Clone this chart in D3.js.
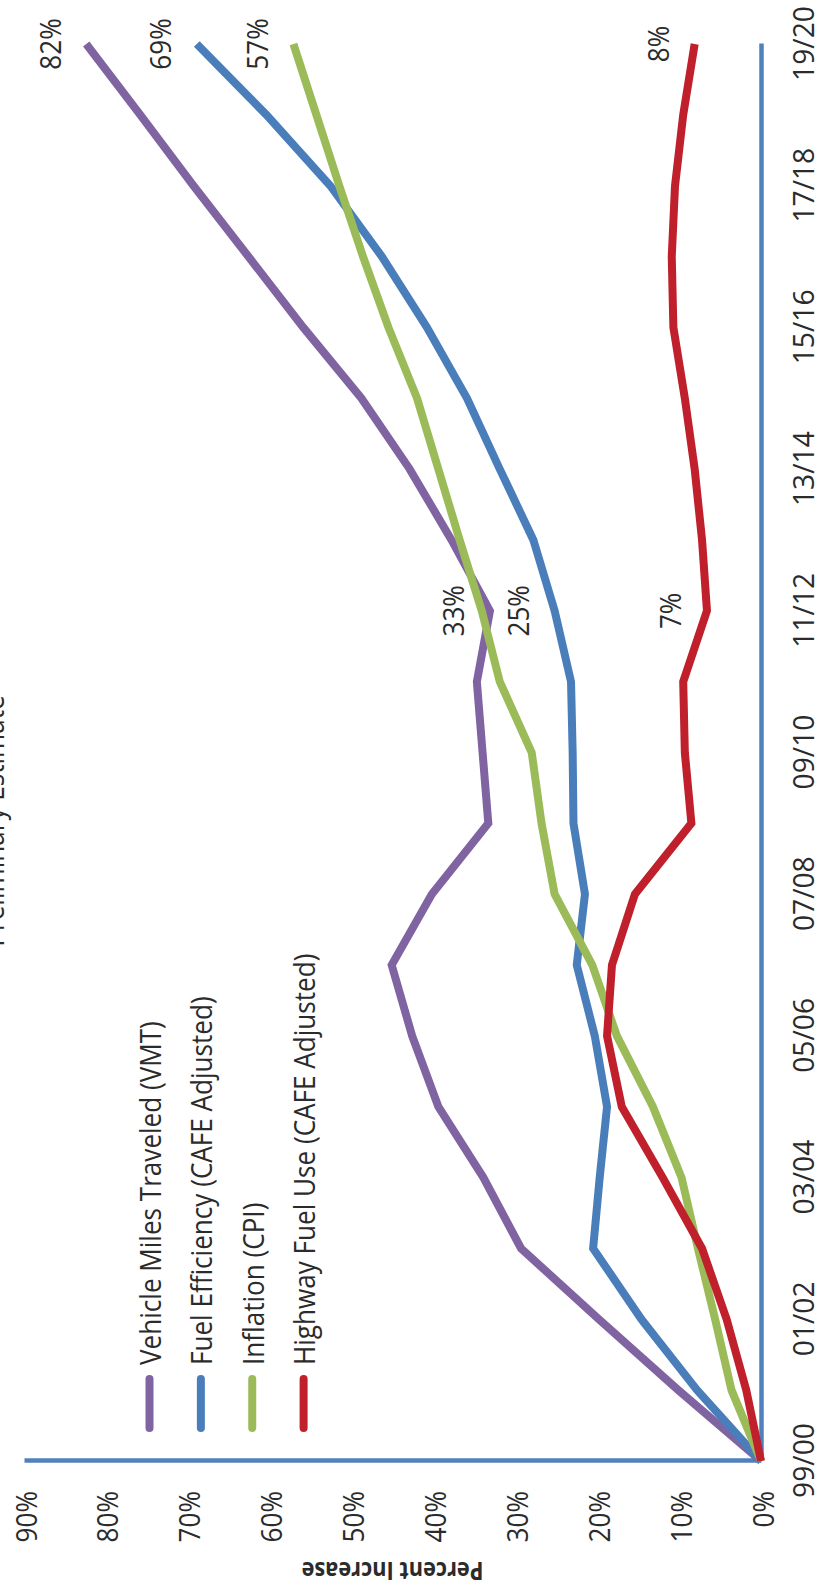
<!DOCTYPE html>
<html><head><meta charset="utf-8">
<script src="https://cdn.jsdelivr.net/npm/d3@7"></script>
<style>body{margin:0;background:#fff} svg{display:block}</style>
</head><body>
<script>
// ---- data ----
const categories = ["99/00","00/01","01/02","02/03","03/04","04/05","05/06","06/07","07/08","08/09","09/10","10/11","11/12","12/13","13/14","14/15","15/16","16/17","17/18","18/19","19/20"];
const tickLabels = ["99/00","01/02","03/04","05/06","07/08","09/10","11/12","13/14","15/16","17/18","19/20"];
const valueTicks = [0,10,20,30,40,50,60,70,80,90];
const seriesNames = ["Vehicle Miles Traveled (VMT)","Fuel Efficiency (CAFE Adjusted)","Inflation (CPI)","Highway Fuel Use (CAFE Adjusted)"];
const vmt     = [0,10.1,19.8,29.3,33.9,39.4,42.6,45.1,40.2,33.3,34.0,34.7,33.1,37.8,42.9,48.8,55.9,62.6,69.3,75.8,82.4];
const fuelEff = [0,7.8,14.6,20.5,19.7,18.8,20.3,22.5,21.5,22.9,23.0,23.2,25.2,27.8,31.9,35.9,40.8,46.3,52.6,60.4,68.9];
const cpi     = [0,3.6,5.6,7.7,9.7,13.2,17.6,20.6,25.2,26.8,28.0,31.9,34.1,36.8,39.4,42.0,45.5,48.6,51.5,54.3,57.1];
const fuelUse = [0,1.8,4.2,7.2,12.0,17.0,18.8,18.2,15.4,8.5,9.3,9.5,6.6,7.2,8.1,9.3,10.7,10.9,10.5,9.5,8.1];
const labelIndices = [[12,20],[12,20],[20],[12,20]];
const subtitle = "Preliminary Estimate";
const axisTitle = "Percent Increase";

// ---- style ----
const colors = ["#8064A2","#4A7EBB","#9BBB59","#C0202B"];
const axisColor = "#4F81BD";
const textColor = "#2b2b2b";
const FONT = "'Open Sans', 'DejaVu Sans', sans-serif";
const SQ = 0.87;

const W = 816, H = 1591;
const plotLen = 1417, plotH = 737;
const svg = d3.select("body").append("svg").attr("width", W).attr("height", H);
const g = svg.append("g").attr("transform", "translate(24,1461) rotate(-90)")
  .style("font-family", FONT);

const x = d3.scalePoint().domain(categories).range([0, plotLen]);
const y = d3.scaleLinear().domain([0, 90]).range([plotH, 0]);

function squeeze(sel, k) {
  sel.each(function() {
    const t = d3.select(this);
    const tx = +t.attr("x") || 0, ty = +t.attr("y") || 0;
    const prev = t.attr("transform") || "";
    t.attr("x", 0).attr("y", 0).attr("transform", `${prev} translate(${tx},${ty}) scale(${k},1)`);
  });
}

// category axis
const xa = g.append("g").attr("transform", `translate(0,${plotH})`)
  .call(d3.axisBottom(x).tickValues(tickLabels).tickSize(0).tickSizeOuter(0).tickPadding(32));
xa.select(".domain").attr("stroke", axisColor).attr("stroke-width", 4.5);
xa.selectAll("text").attr("font-size", 30).attr("font-family", FONT).attr("fill", textColor);
squeeze(xa.selectAll("text"), 0.94);

// value axis
const ya = g.append("g")
  .call(d3.axisLeft(y).tickValues(valueTicks).tickSize(0).tickSizeOuter(0).tickPadding(30).tickFormat(d => d + "%"));
ya.select(".domain").attr("stroke", axisColor).attr("stroke-width", 4.5);
ya.selectAll("text").attr("font-size", 30).attr("font-family", FONT).attr("fill", textColor).attr("dy", "0.4em");
squeeze(ya.selectAll("text"), SQ);

// axis title
const at = g.append("text").attr("transform", `translate(-101,${plotH/2}) rotate(-90) scale(${SQ},1)`)
  .attr("text-anchor", "middle").attr("font-size", 25).attr("font-weight", "bold")
  .attr("fill", textColor).text(axisTitle);

// subtitle (partially off-canvas)
const st = g.append("text").attr("x", 640).attr("y", -20).attr("text-anchor", "middle")
  .attr("font-size", 30).attr("fill", textColor).text(subtitle);
squeeze(st, SQ);

// series
const allSeries = [vmt, fuelEff, cpi, fuelUse];
const line = d3.line().x((d, i) => x(categories[i])).y(d => y(d));
allSeries.forEach((s, k) => {
  g.append("path").datum(s).attr("d", line).attr("fill", "none")
    .attr("stroke", colors[k]).attr("stroke-width", 8)
    .attr("stroke-linejoin", "miter").attr("stroke-miterlimit", 4).attr("stroke-linecap", "butt");
});

// data labels
allSeries.forEach((s, k) => {
  labelIndices[k].forEach(i => {
    const t = g.append("text").attr("x", x(categories[i])).attr("y", y(s[i]) - 36.5)
      .attr("dy", "0.36em").attr("text-anchor", "middle").attr("font-size", 30)
      .attr("fill", textColor).text(Math.round(s[i]) + "%");
    squeeze(t, SQ);
  });
});

// legend
const legendV = d3.scalePoint().domain(seriesNames).range([125.5, 279.6]);
seriesNames.forEach((name, k) => {
  const v = legendV(name);
  g.append("line").attr("x1", 33).attr("x2", 82).attr("y1", v).attr("y2", v)
    .attr("stroke", colors[k]).attr("stroke-width", 8).attr("stroke-linecap", "round");
  const t = g.append("text").attr("x", 96).attr("y", v).attr("dy", "0.38em")
    .attr("font-size", 30).attr("fill", textColor).text(name);
  squeeze(t, SQ);
});
</script>
</body></html>
